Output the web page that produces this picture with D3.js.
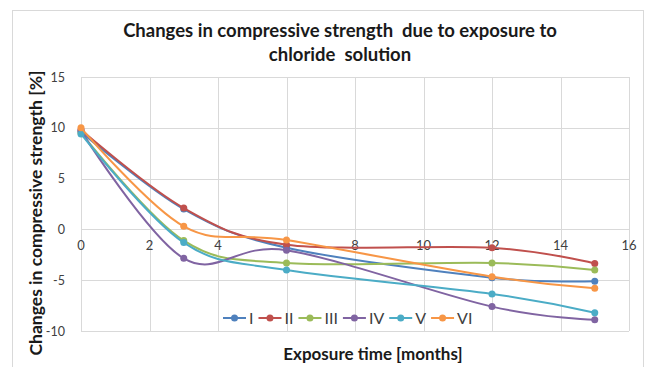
<!DOCTYPE html>
<html>
<head>
<meta charset="utf-8">
<script src="https://cdn.jsdelivr.net/npm/d3@7"></script>
<style>
  body { margin: 0; background: #fff; }
  text { font-family: Lato, "Open Sans", sans-serif; white-space: pre; }
</style>
</head>
<body>
<div id="chart"></div>
<script>
// exposure time (months)
var months = [0, 3, 6, 12, 15];
// changes in compressive strength [%], one list per mix
var serI   = [9.6, 2.0, -1.8, -4.75, -5.1];
var serII  = [9.8, 2.1, -1.5, -1.8, -3.35];
var serIII = [9.5, -1.1, -3.3, -3.3, -4.0];
var serIV  = [9.7, -2.85, -2.05, -7.6, -8.9];
var serV   = [9.4, -1.3, -4.0, -6.35, -8.2];
var serVI  = [10.0, 0.3, -1.05, -4.65, -5.8];
var names  = ['I', 'II', 'III', 'IV', 'V', 'VI'];
var colors = ['#4f81bd', '#c0504d', '#9bbb59', '#8064a2', '#4bacc6', '#f79646'];
var xTicks = [0, 2, 4, 6, 8, 10, 12, 14, 16];
var yTicks = [-10, -5, 0, 5, 10, 15];

var allSeries = [serI, serII, serIII, serIV, serV, serVI];

var W = 647, H = 367;
var svg = d3.select('#chart').append('svg').attr('width', W).attr('height', H);

// outer chart frame
svg.append('rect').attr('x', 12.5).attr('y', 10.5).attr('width', 631).attr('height', 380)
  .attr('fill', 'none').attr('stroke', '#d9d9d9');

var x = d3.scaleLinear().domain([0, 16]).range([81, 629]);
var y = d3.scaleLinear().domain([-10, 15]).range([331, 77]);

// gridlines
svg.append('g').selectAll('line').data(xTicks).enter().append('line')
  .attr('x1', function(d) { return Math.round(x(d)) + 0.5; })
  .attr('x2', function(d) { return Math.round(x(d)) + 0.5; })
  .attr('y1', y(15)).attr('y2', y(-10))
  .attr('stroke', '#d9d9d9');
svg.append('g').selectAll('line').data(yTicks).enter().append('line')
  .attr('y1', function(d) { return Math.round(y(d)) + 0.5; })
  .attr('y2', function(d) { return Math.round(y(d)) + 0.5; })
  .attr('x1', x(0)).attr('x2', x(16))
  .attr('stroke', '#d9d9d9');

// y tick labels
svg.append('g').selectAll('text').data(yTicks).enter().append('text')
  .attr('x', 65).attr('y', function(d) { return y(d) + 4.5; })
  .attr('text-anchor', 'end').attr('font-size', 12.5).attr('fill', '#404040')
  .text(function(d) { return d; });

// x tick labels sit under the zero line
svg.append('g').selectAll('text').data(xTicks).enter().append('text')
  .attr('x', function(d) { return x(d); }).attr('y', y(0) + 21)
  .attr('text-anchor', 'middle').attr('font-size', 13).attr('fill', '#404040')
  .text(function(d) { return d; });

// smoothed lines like Excel
var line = d3.line()
  .x(function(d, i) { return x(months[i]); })
  .y(function(d) { return y(d); })
  .curve(d3.curveCardinal.tension(0));

allSeries.forEach(function(s, k) {
  var g = svg.append('g');
  g.append('path').attr('d', line(s)).attr('fill', 'none')
    .attr('stroke', colors[k]).attr('stroke-width', 2);
  g.selectAll('circle').data(s).enter().append('circle')
    .attr('cx', function(d, i) { return x(months[i]); })
    .attr('cy', function(d) { return y(d); })
    .attr('r', 3.5).attr('fill', colors[k]);
});

// legend
var lx = 223, ly = 318;
names.forEach(function(n, k) {
  var g = svg.append('g');
  g.append('line').attr('x1', lx).attr('x2', lx + 23).attr('y1', ly).attr('y2', ly)
    .attr('stroke', colors[k]).attr('stroke-width', 2);
  g.append('circle').attr('cx', lx + 11.5).attr('cy', ly).attr('r', 3.5).attr('fill', colors[k]);
  var t = g.append('text').attr('x', lx + 26).attr('y', ly + 6).attr('font-size', 16)
    .attr('fill', '#404040').text(n);
  lx += 26 + t.node().getComputedTextLength() + 5;
});

// titles
svg.append('text').attr('x', 340).attr('y', 37).attr('text-anchor', 'middle')
  .attr('font-size', 18.5).attr('font-weight', 'bold').attr('fill', '#1a1a1a')
  .text('Changes in compressive strength  due to exposure to');
svg.append('text').attr('x', 340).attr('y', 61).attr('text-anchor', 'middle')
  .attr('font-size', 18.5).attr('font-weight', 'bold').attr('fill', '#1a1a1a')
  .text('chloride  solution');

svg.append('text').attr('x', 373).attr('y', 360).attr('text-anchor', 'middle')
  .attr('font-size', 17).attr('font-weight', 'bold').attr('fill', '#1a1a1a')
  .text('Exposure time [months]');

svg.append('text').attr('transform', 'translate(42,213) rotate(-90)').attr('text-anchor', 'middle')
  .attr('font-size', 17.5).attr('font-weight', 'bold').attr('fill', '#1a1a1a')
  .text('Changes in compressive strength [%]');
</script>
</body>
</html>
